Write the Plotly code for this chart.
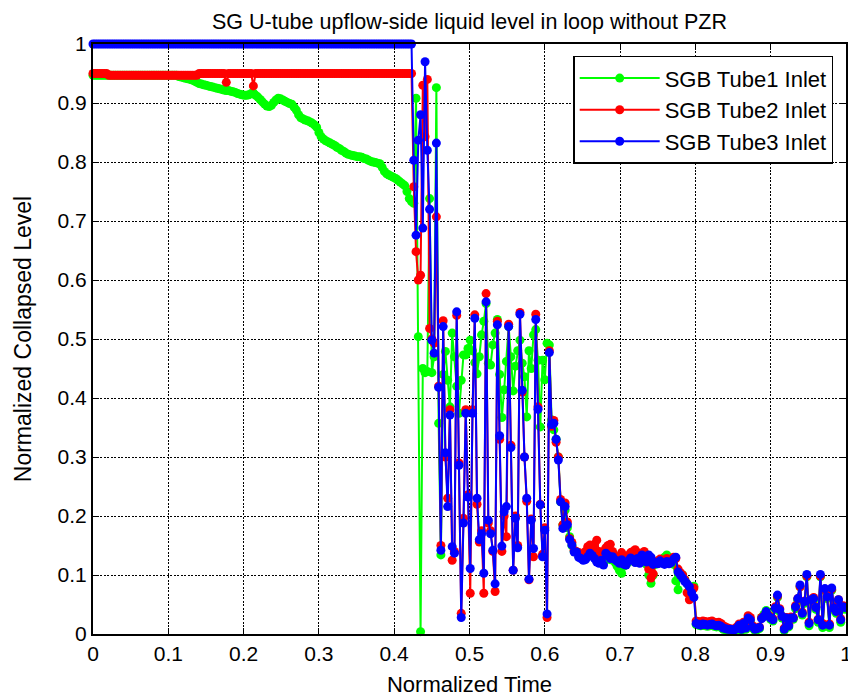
import plotly.graph_objects as go

# ---------------- data ----------------
TIME_STEP = 0.003
N_SAMPLES = 334
time = [round(k * TIME_STEP, 3) for k in range(N_SAMPLES)]

series_names = ["SGB Tube1 Inlet", "SGB Tube2 Inlet", "SGB Tube3 Inlet"]

tube1_level = [
    # t = 0 .. 0.423
    0.947, 0.947, 0.947, 0.947, 0.947, 0.947, 0.947, 0.947, 0.947, 0.947,
    0.947, 0.947, 0.947, 0.947, 0.947, 0.947, 0.947, 0.947, 0.947, 0.947,
    0.947, 0.947, 0.947, 0.947, 0.947, 0.947, 0.947, 0.947, 0.947, 0.947,
    0.947, 0.947, 0.947, 0.947, 0.947, 0.947, 0.947, 0.947,
    0.945, 0.944, 0.943, 0.942, 0.941, 0.940, 0.939, 0.937, 0.935, 0.933,
    0.932, 0.931, 0.930, 0.929, 0.928, 0.927, 0.926, 0.925, 0.924, 0.923,
    0.922, 0.921, 0.921, 0.920, 0.919, 0.918, 0.916, 0.915, 0.914, 0.913,
    0.913, 0.914, 0.916, 0.917, 0.913, 0.910, 0.906, 0.902, 0.898, 0.895,
    0.894, 0.896, 0.901, 0.905, 0.908, 0.907, 0.905, 0.903, 0.901, 0.899,
    0.898, 0.893, 0.888, 0.880, 0.875, 0.873, 0.871, 0.870, 0.868, 0.866,
    0.863, 0.859, 0.850, 0.843, 0.839, 0.836, 0.834, 0.832, 0.830, 0.828,
    0.825, 0.823, 0.820, 0.818, 0.815, 0.813, 0.812, 0.811, 0.810, 0.809,
    0.809, 0.808, 0.806, 0.805, 0.803, 0.801, 0.800, 0.799, 0.798, 0.797,
    0.791, 0.784, 0.780, 0.778, 0.776, 0.774, 0.772, 0.769, 0.766, 0.763,
    0.760, 0.750, 0.738, 0.733,
    # t = 0.426 .. 0.639
    0.730, 0.908, 0.504, 0.004, 0.450, 0.443, 0.445, 0.738, 0.443, 0.470,
    0.926, 0.357, 0.134, 0.440, 0.479, 0.430, 0.385, 0.510, 0.470, 0.420,
    0.374, 0.430, 0.473, 0.473, 0.484, 0.498, 0.480, 0.460, 0.441, 0.470,
    0.507, 0.530, 0.560, 0.459, 0.456, 0.490, 0.510, 0.533, 0.440, 0.367,
    0.414, 0.462, 0.521, 0.470, 0.412, 0.454, 0.480, 0.498, 0.459, 0.436,
    0.368, 0.480, 0.450, 0.507, 0.516, 0.464, 0.351, 0.464, 0.431, 0.493,
    0.490, 0.363, 0.346, 0.330, 0.300, 0.224, 0.185, 0.210, 0.180, 0.165,
    0.150, 0.140,
    # t = 0.642 .. 0.798
    0.138, 0.135, 0.132, 0.128, 0.128, 0.133, 0.138, 0.135, 0.130, 0.125,
    0.122, 0.126, 0.120, 0.133, 0.130, 0.126, 0.128, 0.122, 0.115, 0.108,
    0.103, 0.115, 0.118, 0.122, 0.127, 0.125, 0.122, 0.126, 0.122, 0.130,
    0.128, 0.118, 0.100, 0.086, 0.100, 0.118, 0.120, 0.122, 0.125, 0.130,
    0.134, 0.128, 0.124, 0.118, 0.090, 0.075, 0.098, 0.100, 0.092, 0.085,
    0.078, 0.075, 0.081,
    # t = 0.801 .. 0.999
    0.016, 0.015, 0.014, 0.015, 0.014, 0.013, 0.014, 0.015, 0.013, 0.012,
    0.013, 0.011, 0.008, 0.007, 0.006, 0.006, 0.005, 0.006, 0.008, 0.013,
    0.006, 0.016, 0.008, 0.025, 0.022, 0.010, 0.006, 0.007, 0.009, 0.028,
    0.033, 0.040, 0.032, 0.025, 0.022, 0.042, 0.062, 0.038, 0.027, 0.006,
    0.025, 0.012, 0.025, 0.025, 0.043, 0.057, 0.080, 0.032, 0.052, 0.097,
    0.014, 0.055, 0.057, 0.042, 0.020, 0.097, 0.011, 0.073, 0.060, 0.011,
    0.074, 0.041, 0.035, 0.055, 0.020, 0.043, 0.042,
]

tube2_level = [
    # t = 0 .. 0.423
    0.950, 0.950, 0.950, 0.950, 0.950, 0.950, 0.950,
    0.947, 0.947, 0.947, 0.947, 0.947, 0.947, 0.947, 0.947, 0.947, 0.947,
    0.947, 0.947, 0.947, 0.947, 0.947, 0.947, 0.947, 0.947, 0.947, 0.947,
    0.947, 0.947, 0.947, 0.947, 0.947, 0.947, 0.947, 0.947, 0.947, 0.947,
    0.947, 0.947, 0.947, 0.947, 0.947, 0.947, 0.947, 0.947, 0.947, 0.947,
    0.950, 0.950, 0.950, 0.950, 0.950, 0.950, 0.950, 0.950, 0.950, 0.950,
    0.950, 0.950, 0.935, 0.950, 0.950, 0.950, 0.950, 0.950, 0.950, 0.950,
    0.950, 0.950, 0.950, 0.950, 0.929, 0.950, 0.950, 0.950, 0.950, 0.950,
    0.950, 0.950, 0.950, 0.950, 0.950, 0.950, 0.950, 0.950, 0.950, 0.950,
    0.950, 0.950, 0.950, 0.950, 0.950, 0.950, 0.950, 0.950, 0.950, 0.950,
    0.950, 0.950, 0.950, 0.950, 0.950, 0.950, 0.950, 0.950, 0.950, 0.950,
    0.950, 0.950, 0.950, 0.950, 0.950, 0.950, 0.950, 0.950, 0.950, 0.950,
    0.950, 0.950, 0.950, 0.950, 0.950, 0.950, 0.950, 0.950, 0.950, 0.950,
    0.950, 0.950, 0.950, 0.950, 0.950, 0.950, 0.950, 0.950, 0.950, 0.950,
    0.950, 0.950, 0.950, 0.950, 0.950,
    # t = 0.426 .. 0.639
    0.758, 0.648, 0.600, 0.608, 0.930, 0.843, 0.940, 0.518, 0.500, 0.493,
    0.707, 0.420, 0.150, 0.531, 0.300, 0.230, 0.380, 0.125, 0.140, 0.540,
    0.290, 0.035, 0.196, 0.380, 0.236, 0.069, 0.380, 0.541, 0.220, 0.156,
    0.175, 0.069, 0.577, 0.188, 0.175, 0.140, 0.072, 0.530, 0.330, 0.140,
    0.200, 0.165, 0.525, 0.320, 0.108, 0.200, 0.150, 0.545, 0.410, 0.300,
    0.225, 0.092, 0.195, 0.131, 0.542, 0.385, 0.220, 0.135, 0.180, 0.028,
    0.480, 0.352, 0.362, 0.325, 0.300, 0.228, 0.185, 0.222, 0.190, 0.162,
    0.155, 0.142,
    # t = 0.642 .. 0.798
    0.140, 0.138, 0.135, 0.132, 0.140, 0.148, 0.151, 0.145, 0.152, 0.159,
    0.140, 0.128, 0.140, 0.146, 0.150, 0.152, 0.140, 0.132, 0.128, 0.131,
    0.138, 0.132, 0.128, 0.133, 0.138, 0.140, 0.143, 0.138, 0.133, 0.136,
    0.140, 0.130, 0.110, 0.095, 0.102, 0.120, 0.124, 0.127, 0.122, 0.125,
    0.128, 0.124, 0.126, 0.130, 0.128, 0.110, 0.104, 0.100, 0.092, 0.070,
    0.058, 0.065, 0.078,
    # t = 0.801 .. 0.999
    0.022, 0.021, 0.020, 0.022, 0.021, 0.020, 0.021, 0.022, 0.020, 0.019,
    0.020, 0.018, 0.014, 0.012, 0.010, 0.009, 0.008, 0.009, 0.012, 0.017,
    0.010, 0.020, 0.013, 0.031, 0.028, 0.014, 0.009, 0.010, 0.012, 0.028,
    0.030, 0.036, 0.032, 0.029, 0.026, 0.046, 0.064, 0.043, 0.030, 0.010,
    0.028, 0.016, 0.029, 0.028, 0.048, 0.060, 0.080, 0.037, 0.056, 0.098,
    0.020, 0.058, 0.062, 0.046, 0.025, 0.098, 0.018, 0.075, 0.065, 0.017,
    0.076, 0.046, 0.040, 0.058, 0.026, 0.048, 0.047,
]

tube3_level = [
    # t = 0 .. 0.423
    1.0, 1.0, 1.0, 1.0, 1.0, 1.0, 1.0, 1.0, 1.0, 1.0,
    1.0, 1.0, 1.0, 1.0, 1.0, 1.0, 1.0, 1.0, 1.0, 1.0,
    1.0, 1.0, 1.0, 1.0, 1.0, 1.0, 1.0, 1.0, 1.0, 1.0,
    1.0, 1.0, 1.0, 1.0, 1.0, 1.0, 1.0, 1.0, 1.0, 1.0,
    1.0, 1.0, 1.0, 1.0, 1.0, 1.0, 1.0, 1.0, 1.0, 1.0,
    1.0, 1.0, 1.0, 1.0, 1.0, 1.0, 1.0, 1.0, 1.0, 1.0,
    1.0, 1.0, 1.0, 1.0, 1.0, 1.0, 1.0, 1.0, 1.0, 1.0,
    1.0, 1.0, 1.0, 1.0, 1.0, 1.0, 1.0, 1.0, 1.0, 1.0,
    1.0, 1.0, 1.0, 1.0, 1.0, 1.0, 1.0, 1.0, 1.0, 1.0,
    1.0, 1.0, 1.0, 1.0, 1.0, 1.0, 1.0, 1.0, 1.0, 1.0,
    1.0, 1.0, 1.0, 1.0, 1.0, 1.0, 1.0, 1.0, 1.0, 1.0,
    1.0, 1.0, 1.0, 1.0, 1.0, 1.0, 1.0, 1.0, 1.0, 1.0,
    1.0, 1.0, 1.0, 1.0, 1.0, 1.0, 1.0, 1.0, 1.0, 1.0,
    1.0, 1.0, 1.0, 1.0, 1.0, 1.0, 1.0, 1.0, 1.0, 1.0,
    1.0, 1.0,
    # t = 0.426 .. 0.639
    0.803, 0.676, 0.837, 0.880, 0.688, 0.970, 0.820, 0.720, 0.498, 0.476,
    0.832, 0.418, 0.142, 0.521, 0.307, 0.216, 0.371, 0.148, 0.137, 0.546,
    0.286, 0.028, 0.188, 0.374, 0.232, 0.111, 0.374, 0.535, 0.230, 0.160,
    0.170, 0.103, 0.563, 0.193, 0.170, 0.142, 0.085, 0.524, 0.336, 0.149,
    0.207, 0.216, 0.521, 0.316, 0.108, 0.196, 0.146, 0.542, 0.413, 0.300,
    0.230, 0.093, 0.193, 0.145, 0.533, 0.381, 0.219, 0.131, 0.176, 0.034,
    0.477, 0.355, 0.357, 0.330, 0.295, 0.224, 0.179, 0.216, 0.185, 0.160,
    0.151, 0.139,
    # t = 0.642 .. 0.798
    0.139, 0.130, 0.128, 0.125, 0.126, 0.131, 0.137, 0.133, 0.128, 0.122,
    0.120, 0.125, 0.117, 0.137, 0.133, 0.128, 0.131, 0.126, 0.123, 0.120,
    0.126, 0.118, 0.117, 0.124, 0.129, 0.126, 0.121, 0.128, 0.120, 0.134,
    0.131, 0.122, 0.134, 0.130, 0.118, 0.121, 0.119, 0.124, 0.120, 0.118,
    0.123, 0.119, 0.121, 0.127, 0.130, 0.105, 0.100, 0.095, 0.089, 0.085,
    0.080, 0.070, 0.062,
    # t = 0.801 .. 0.999
    0.018, 0.016, 0.015, 0.017, 0.016, 0.015, 0.016, 0.017, 0.015, 0.014,
    0.015, 0.013, 0.010, 0.009, 0.008, 0.008, 0.007, 0.007, 0.010, 0.015,
    0.008, 0.018, 0.010, 0.027, 0.024, 0.012, 0.008, 0.009, 0.011, 0.026,
    0.030, 0.038, 0.030, 0.027, 0.024, 0.044, 0.066, 0.041, 0.030, 0.008,
    0.027, 0.014, 0.027, 0.027, 0.046, 0.060, 0.083, 0.035, 0.055, 0.101,
    0.018, 0.058, 0.060, 0.045, 0.024, 0.101, 0.015, 0.077, 0.063, 0.015,
    0.078, 0.044, 0.038, 0.058, 0.024, 0.046, 0.045,
]

tick_values = [0, 0.1, 0.2, 0.3, 0.4, 0.5, 0.6, 0.7, 0.8, 0.9, 1]
tick_labels = ["0", "0.1", "0.2", "0.3", "0.4", "0.5", "0.6", "0.7", "0.8", "0.9", "1"]

assert len(tube1_level) == N_SAMPLES, ("tube1", len(tube1_level))
assert len(tube2_level) == N_SAMPLES, ("tube2", len(tube2_level))
assert len(tube3_level) == N_SAMPLES, ("tube3", len(tube3_level))

# ---------------- figure ----------------
colors = ["#00FF00", "#FF0000", "#0000FF"]
levels = [tube1_level, tube2_level, tube3_level]

fig = go.Figure()
for name, lev, col in zip(series_names, levels, colors):
    fig.add_trace(go.Scatter(
        x=time, y=lev, mode="lines+markers", name=name,
        line=dict(color=col, width=2),
        marker=dict(color=col, size=9, line=dict(width=0)),
        cliponaxis=False,
    ))

FONT = "Liberation Sans, Arial, Helvetica, sans-serif"

axis_common = dict(
    range=[0, 1],
    tickvals=tick_values,
    ticktext=tick_labels,
    showline=True, linecolor="black", linewidth=2, mirror="ticks",
    ticks="inside", ticklen=6, tickwidth=1, tickcolor="black",
    showgrid=True, gridcolor="black", gridwidth=1, griddash="2px,1.5px",
    zeroline=False, automargin=False,
    tickfont=dict(family=FONT, size=21, color="black"),
)

# the page body adds an 8px offset, so the figure is 848x692 inside the 856x700 window
fig.update_layout(
    width=848, height=692,
    margin=dict(l=85, r=10, t=36, b=66),
    paper_bgcolor="white", plot_bgcolor="white",
    font=dict(family=FONT, color="black"),
    title=dict(
        text="SG U-tube upflow-side liquid level in loop without PZR",
        x=0.5, xref="paper", xanchor="center",
        y=1 - 13 / 692, yref="container", yanchor="middle",
        font=dict(family=FONT, size=21.5, color="black"),
    ),
    xaxis=dict(axis_common, title=dict(text="Normalized Time",
               font=dict(family=FONT, size=22, color="black"), standoff=12)),
    yaxis=dict(axis_common, title=dict(text="Normalized Collapsed Level",
               font=dict(family=FONT, size=23, color="black"), standoff=20)),
    legend=dict(
        x=0.983, xanchor="right", y=0.98, yanchor="top",
        bgcolor="white", bordercolor="black", borderwidth=1.5,
        font=dict(family=FONT, size=22, color="black"),
        itemwidth=80,
    ),
    showlegend=True,
)

fig.write_html("out.html")
